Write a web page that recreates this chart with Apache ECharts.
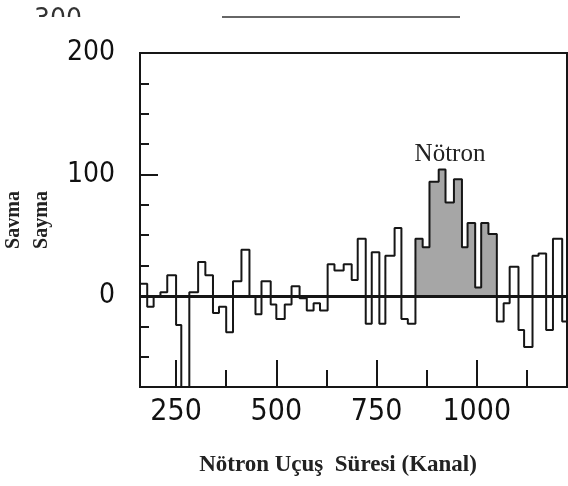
<!DOCTYPE html>
<html>
<head>
<meta charset="utf-8">
<script src="https://cdn.jsdelivr.net/npm/echarts@6/dist/echarts.min.js"></script>
<style>
html,body{margin:0;padding:0;background:#fff}
#main{width:568px;height:486px}
</style>
</head>
<body>
<div id="main"></div>
<script>
// sol kenarlar (kanal) ve sayımlar - taranmış
var binEdges = [160,178,194,211,228,250,263,283,305,323,342,357,375,392,413,433,448,463,486,500,
                521,538,558,576,593,609,628,645,668,688,703,723,738,757,772,795,812,828,847,865,
                882,905,922,943,963,977,996,1011,1029,1050,1067,1082,1104,1118,1139,1154,1173,1190,1213];
var counts   = [10,-9,0,3,17,-24,-90,3,28,17,-14,-9,-30,12,38,0,-15,12,-7,-19,
                -7,8,-2,-12,-6,-12,26,21,26,13,47,-23,36,-23,33,56,-19,-23,47,40,
                94,104,77,96,40,60,7,60,51,-21,-6,24,-28,-42,33,35,-28,47,-21];
var lastEdge = 1225;
var peakFrom = 38, peakTo = 48;          // gri taralı nötron tepe bölgesi (indeks)
var xLabels = [250,500,750,1000];
var xMinor  = [375,625,875,1125];
var yLabels = [0,100,200];

var chart = echarts.init(document.getElementById('main'));

var outline = binEdges.map(function(e,i){ return [e, counts[i]]; });
outline.push([lastEdge, counts[counts.length-1]]);

var peak = [];
for (var i = peakFrom; i <= peakTo; i++) peak.push([binEdges[i], counts[i]]);
peak.push([binEdges[peakTo+1], counts[peakTo]]);

var ink = '#161616';
var numFont = '"DejaVu Sans Condensed","Liberation Sans Narrow",sans-serif';
var plain = function(v){ return String(v); };

var option = {
    backgroundColor: '#fff',
    animation: false,
    grid: {
        left: 140, right: 1, top: 53, bottom: 99,
        outerBoundsMode: 'none', containLabel: false,
        show: true, borderColor: ink, borderWidth: 2
    },
    xAxis: [
        {
            type: 'value', position: 'bottom', min: 160, max: 1225,
            axisLine: { onZero: false, lineStyle: { color: ink, width: 2 } },
            splitLine: { show: false },
            axisTick: { inside: true, length: 27, customValues: xLabels, lineStyle: { color: ink, width: 2 } },
            axisLabel: { customValues: xLabels, formatter: plain, margin: 10, color: '#111', fontFamily: numFont, fontSize: 30 },
            name: 'Nötron Uçuş  Süresi (Kanal)',
            nameLocation: 'middle', nameGap: 67,
            nameTextStyle: { fontFamily: '"Liberation Serif",serif', fontWeight: 'bold', fontSize: 23, color: '#222', padding: [0, 31, 0, 0] }
        },
        {
            type: 'value', position: 'bottom', min: 160, max: 1225,
            axisLine: { show: false, onZero: false },
            splitLine: { show: false },
            axisTick: { inside: true, length: 17, customValues: xMinor, lineStyle: { color: ink, width: 2 } },
            axisLabel: { show: false }
        }
    ],
    yAxis: [
        {
            type: 'value', position: 'left', min: -75, max: 200, interval: 25,
            axisLine: { onZero: false, lineStyle: { color: ink, width: 2 } },
            splitLine: { show: false },
            axisTick: { inside: true, length: 9, lineStyle: { color: ink, width: 2 } },
            axisLabel: { customValues: yLabels, formatter: plain, margin: 25, color: '#111', fontFamily: numFont, fontSize: 28 },
            name: 'Savma\nSayma',
            nameLocation: 'middle', nameRotate: 90, nameGap: 81,
            nameTextStyle: { fontFamily: '"Liberation Serif",serif', fontWeight: 'bold', fontSize: 20, lineHeight: 28, color: '#222' }
        },
        {
            type: 'value', position: 'left', min: -75, max: 200,
            axisLine: { show: false, onZero: false },
            splitLine: { show: false },
            axisTick: { inside: true, length: 18, customValues: [100], lineStyle: { color: ink, width: 2 } },
            axisLabel: { show: false }
        }
    ],
    graphic: [
        { type: 'text', x: 450, y: 154, style: { text: 'Nötron', font: '25px "Liberation Serif"', fill: '#222', align: 'center', verticalAlign: 'middle' } },
        // üstteki kesik şekil kalıntısı
        { type: 'text', x: 58, y: 21, style: { text: '300', font: '28px ' + numFont, fill: '#333', align: 'center', verticalAlign: 'middle' } },
        { type: 'rect', shape: { x: 20, y: 17, width: 100, height: 20 }, style: { fill: '#fff' }, z: 100 },
        { type: 'line', shape: { x1: 222, y1: 17, x2: 460, y2: 17 }, style: { stroke: '#333', lineWidth: 1.5 } }
    ],
    series: [
        {
            name: 'tepe', type: 'line', step: 'end', data: peak,
            symbol: 'none', z: 1,
            lineStyle: { width: 0 },
            areaStyle: { color: '#a6a6a6', opacity: 1, origin: 0 }
        },
        {
            name: 'sayim', type: 'line', step: 'end', data: outline,
            symbol: 'none', z: 3,
            lineStyle: { color: ink, width: 2 },
            markLine: {
                silent: true, symbol: ['none','none'],
                label: { show: false },
                lineStyle: { color: ink, width: 3, type: 'solid' },
                data: [{ yAxis: 0 }]
            }
        }
    ]
};

chart.setOption(option);
window.onresize = chart.resize;
</script>
</body>
</html>
